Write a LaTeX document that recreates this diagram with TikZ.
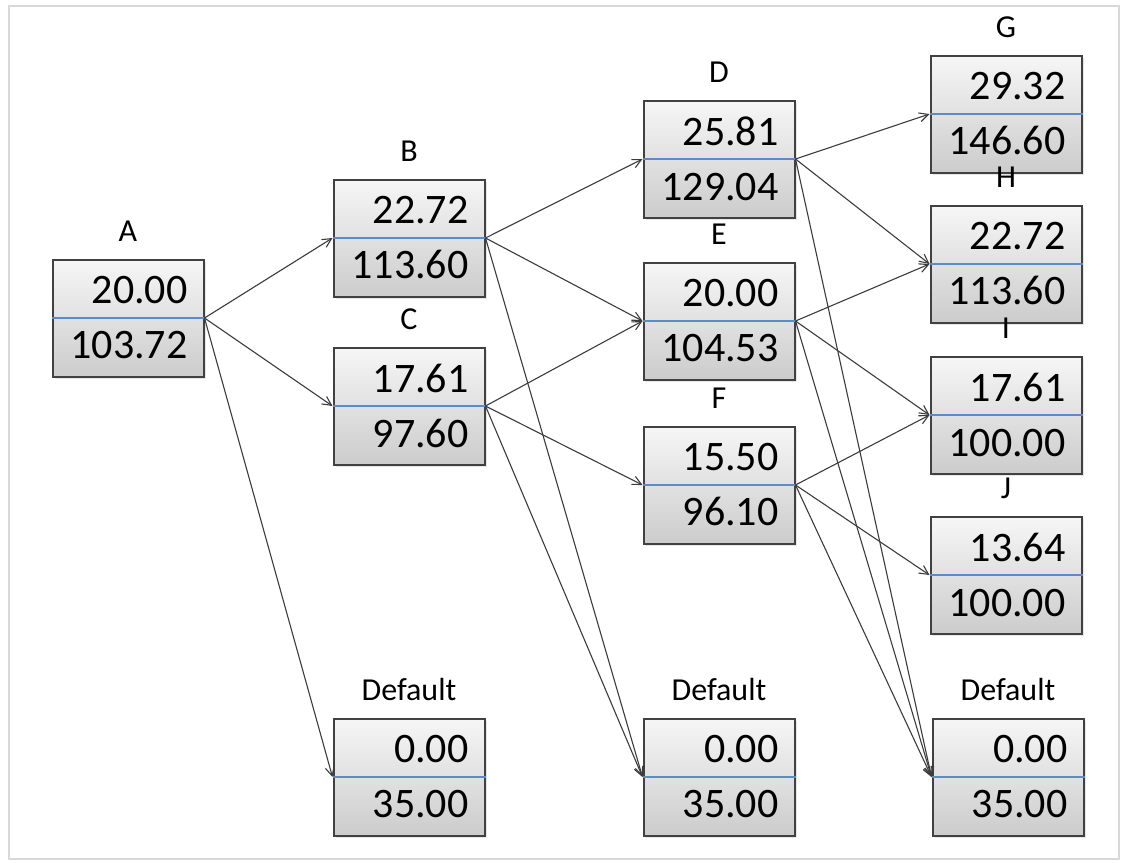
\documentclass[tikz,border=0pt]{standalone}
\usepackage{fontspec}
\setmainfont{Carlito}
\usetikzlibrary{arrows.meta}
\usetikzlibrary{shadows}
\usepackage{xcolor}

\definecolor{splitblue}{RGB}{ 91,140,200 }
\definecolor{boxedge}{RGB}{ 65,65,65 }
\definecolor{linkgray}{RGB}{ 60,60,60 }

\tikzset{
    valbox/.style={draw=boxedge, line width=2pt, top color=gray!7, bottom color=gray!40,
        minimum width=151pt, minimum height=117pt, inner xsep=16pt, inner ysep=0pt,
        text width=119pt, align=right, font=\fontsize{42}{55}\selectfont,
        drop shadow={opacity=0.2, shadow xshift=2pt, shadow yshift=-2pt}},
    lbl/.style={font=\fontsize{32}{38}\selectfont, anchor=base, inner sep=0pt},
    split/.style={draw=splitblue, line width=1.2pt},
    link/.style={draw=linkgray, line width=1.1pt, -{Straight Barb[length=9pt, width=9pt]}}
}

\begin{document}
\begin{tikzpicture}[x=1pt, y=-1pt]

\useasboundingbox (0,0) rectangle (1124,863);
\draw[gray!30, line width=2pt] (9,6) rectangle (1119,859);

% name/x/y/label/top/bottom
\def\boxes{A/128/318/A/20.00/103.72, B/409/238/B/22.72/113.60, C/409/406/C/17.61/97.60,
    D/719/159/D/25.81/129.04, E/719/321/E/20.00/104.53, F/719/485/F/15.50/96.10,
    G/1006/114/G/29.32/146.60, H/1006/264/H/22.72/113.60, I/1006/415/I/17.61/100.00,
    J/1006/575/J/13.64/100.00,
    Def1/409/777/Default/0.00/35.00, Def2/719/777/Default/0.00/35.00, Def3/1008/777/Default/0.00/35.00}

    \foreach \name/\x/\y/\txt/\up/\down in \boxes {
        \node[valbox] (\name) at (\x,\y) {\up\\\down};
        \draw[split] (\name.west) -- (\name.east);
        \node[lbl] (\name-lbl) at ([yshift=17pt]\name.north) {\txt};
    }

    % arrows
    \foreach \from/\to in {A/B, A/C, A/Def1, B/D, B/E, B/Def2, C/E, C/F, C/Def2,
        D/G, D/H, D/Def3, E/H, E/I, E/Def3, F/I, F/J, F/Def3}
        \draw[link] (\from.east) -- (\to.west);

\end{tikzpicture}
\end{document}
